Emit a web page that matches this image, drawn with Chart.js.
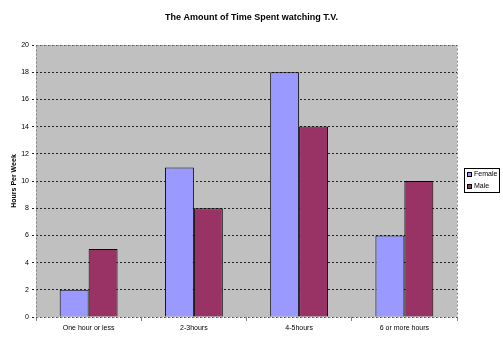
<!DOCTYPE html>
<html>
<head>
<meta charset="utf-8">
<script src="https://cdn.jsdelivr.net/npm/chart.js@4"></script>
<style>
  html, body { margin: 0; padding: 0; background: #fff; }
  #wrap { width: 503px; height: 343px; }
</style>
</head>
<body>
<div id="wrap"><canvas id="tv"></canvas></div>
<script>
// data
const categories = ['One hour or less', '2-3hours', '4-5hours', '6 or more hours'];
const female = [2, 11, 18, 6];
const male = [5, 8, 14, 10];
const chartTitle = 'The Amount of Time Spent watching T.V.';

const FEMALE_COLOR = '#9999FF';
const MALE_COLOR = '#993366';
const FONT = 'Arial, "Liberation Sans", sans-serif';

// grey plot background + dashed frame
const plotFrame = {
  id: 'plotFrame',
  beforeDraw(chart) {
    const { ctx, chartArea: a } = chart;
    ctx.save();
    ctx.fillStyle = '#C0C0C0';
    ctx.fillRect(a.left, a.top, a.right - a.left, a.bottom - a.top);
    ctx.restore();
  },
  afterDraw(chart) {
    const { ctx, chartArea: a } = chart;
    ctx.save();
    ctx.strokeStyle = '#808080';
    ctx.lineWidth = 1;
    ctx.setLineDash([2, 2]);
    ctx.strokeRect(Math.round(a.left) + 0.5, Math.round(a.top) + 0.5,
                   Math.round(a.right - a.left), Math.round(a.bottom - a.top));
    ctx.restore();
  }
};

// title centred on the whole canvas
const pageTitle = {
  id: 'pageTitle',
  afterDraw(chart) {
    const { ctx, width } = chart;
    ctx.save();
    ctx.font = 'bold 9px ' + FONT;
    ctx.fillStyle = '#000';
    ctx.textAlign = 'center';
    ctx.textBaseline = 'middle';
    ctx.fillText(chartTitle, width / 2, 18);
    ctx.restore();
  }
};

// boxed legend on the right
const boxLegend = {
  id: 'boxLegend',
  afterDraw(chart) {
    const { ctx } = chart;
    const x = 464, y = 168, w = 35, h = 24;
    ctx.save();
    ctx.fillStyle = '#fff';
    ctx.fillRect(x, y, w, h);
    ctx.strokeStyle = '#000';
    ctx.lineWidth = 1;
    ctx.strokeRect(x + 0.5, y + 0.5, w, h);
    ctx.font = '7px ' + FONT;
    ctx.textBaseline = 'middle';
    chart.data.datasets.forEach((ds, i) => {
      const cy = y + 6 + i * 12;
      ctx.fillStyle = ds.backgroundColor;
      ctx.fillRect(x + 3, cy - 2, 5, 5);
      ctx.strokeStyle = '#000';
      ctx.strokeRect(x + 3.5, cy - 1.5, 4, 4);
      ctx.fillStyle = '#000';
      ctx.fillText(ds.label, x + 10, cy + 0.5);
    });
    ctx.restore();
  }
};

new Chart(document.getElementById('tv'), {
  type: 'bar',
  data: {
    labels: categories,
    datasets: [
      { label: 'Female', data: female, backgroundColor: FEMALE_COLOR, borderColor: '#000', borderWidth: 1 },
      { label: 'Male', data: male, backgroundColor: MALE_COLOR, borderColor: '#000', borderWidth: 1 }
    ]
  },
  options: {
    responsive: true,
    maintainAspectRatio: false,
    animation: false,
    layout: { padding: { left: 0, right: 46, top: 45, bottom: 0 } },
    datasets: { bar: { categoryPercentage: 0.55, barPercentage: 1.0 } },
    plugins: {
      legend: { display: false },
      tooltip: { enabled: false },
      title: { display: false }
    },
    scales: {
      x: {
        grid: { display: true, drawOnChartArea: false, drawTicks: true, tickLength: 4, color: '#808080' },
        border: { display: false },
        ticks: { color: '#000', font: { family: FONT, size: 7 }, padding: 3, maxRotation: 0 },
        afterFit(scale) { scale.height = 26; }
      },
      y: {
        min: 0,
        max: 20,
        ticks: { stepSize: 2, color: '#000', font: { family: FONT, size: 7 }, padding: 3 },
        grid: { color: '#222', tickLength: 4, tickBorderDash: [2, 2] },
        border: { display: false, dash: [2, 2] },
        title: {
          display: true,
          text: 'Hours Per Week',
          color: '#000',
          font: { family: FONT, size: 7, weight: 'bold' },
          padding: { top: 10, bottom: 4 }
        },
        afterFit(scale) { scale.width = 36; }
      }
    }
  },
  plugins: [plotFrame, pageTitle, boxLegend]
});
</script>
</body>
</html>
